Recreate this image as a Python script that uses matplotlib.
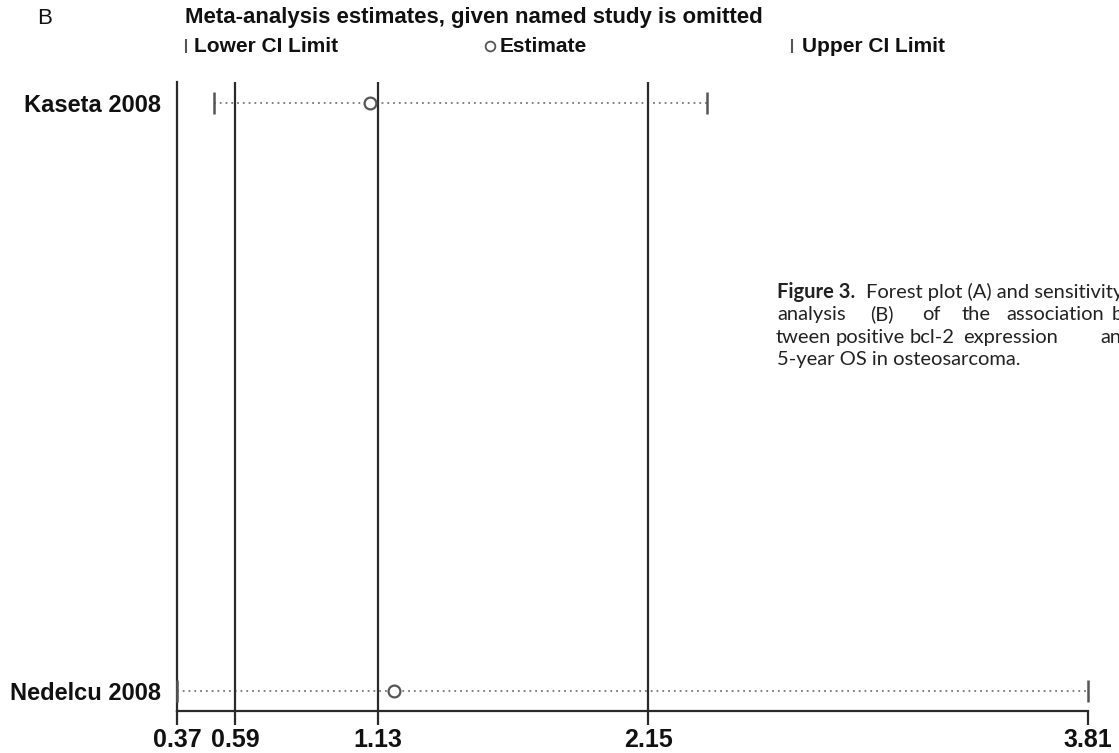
import matplotlib
matplotlib.use("Agg")
import matplotlib.pyplot as plt
from matplotlib.lines import Line2D

studies = ["Kaseta 2008", "Nedelcu 2008"]
estimates = [1.10, 1.19]
lower_ci = [0.51, 0.37]
upper_ci = [2.37, 3.81]
overall_est = 1.13
overall_low = 0.59
overall_high = 2.15
xmin, xmax = 0.37, 3.81
xticks = [0.37, 0.59, 1.13, 2.15, 3.81]
xticklabels = ["0.37", "0.59", "1.13", "2.15", "3.81"]

W, H = 1119, 753
fig = plt.figure(figsize=(W / 100, H / 100), dpi=100)
fig.patch.set_facecolor("white")

def fx(px):
    return px / W

def fy(py):
    return 1 - py / H

ax_left, ax_right, ax_top, ax_bot = 177, 1088, 82, 711
ax = fig.add_axes([fx(ax_left), fy(ax_bot), fx(ax_right - ax_left), (ax_bot - ax_top) / H])
ax.set_xlim(xmin, xmax)
span = 588.0
ax.set_ylim(1 + 20 / span, -21 / span)

ink = "#2a2a2a"
grey = "#555555"
font = "Liberation Sans"

for s in ["top", "right"]:
    ax.spines[s].set_visible(False)
for s in ["left", "bottom"]:
    ax.spines[s].set_color(ink)
    ax.spines[s].set_linewidth(1.6)

for v in [overall_low, overall_est, overall_high]:
    ax.axvline(v, color=ink, lw=1.6, zorder=2)

ys = list(range(len(studies)))
for y, lo, est, hi in zip(ys, lower_ci, estimates, upper_ci):
    ax.plot([lo, hi], [y, y], color="#777777", lw=1.3, linestyle=(0, (1, 2.2)), zorder=1, clip_on=False)
    ax.plot([lo, hi], [y, y], linestyle="none", marker="|", markersize=16, markeredgewidth=1.8,
            color=grey, zorder=3, clip_on=False)
    ax.plot([est], [y], linestyle="none", marker="o", markersize=8.5, markerfacecolor="white",
            markeredgecolor=grey, markeredgewidth=1.6, zorder=4, clip_on=False)

ax.set_yticks(ys)
ax.set_yticklabels(studies, fontsize=17, fontfamily=font, color="#111111", fontweight="bold")
ax.tick_params(axis="y", length=0, pad=11.5)
ax.set_xticks(xticks)
ax.set_xticklabels(xticklabels, fontsize=18, fontfamily=font, color="#111111", fontweight="bold")
ax.tick_params(axis="x", length=10, width=1.6, color=ink, pad=2)

# Header texts
fig.text(fx(37), fy(18), "B", fontsize=16, fontfamily=font, va="center", ha="left", color="#111111")
fig.text(fx(185), fy(18), "Meta-analysis estimates, given named study is omitted", fontsize=16,
         fontfamily=font, fontweight="bold", va="center", ha="left", color="#111111")

# Legend row
leg_y = fy(46)
fig.add_artist(Line2D([fx(186)], [leg_y], marker="|", markersize=10, markeredgewidth=1.5,
                      color=grey, linestyle="none"))
fig.text(fx(194), leg_y, "Lower CI Limit", fontsize=15, fontfamily=font, fontweight="bold",
         va="center", ha="left", color="#111111")
fig.add_artist(Line2D([fx(490)], [leg_y], marker="o", markersize=7, markerfacecolor="white",
                      markeredgecolor=grey, markeredgewidth=1.3, linestyle="none"))
fig.text(fx(500), leg_y, "Estimate", fontsize=15, fontfamily=font, fontweight="bold",
         va="center", ha="left", color="#111111")
fig.add_artist(Line2D([fx(792)], [leg_y], marker="|", markersize=10, markeredgewidth=1.5,
                      color=grey, linestyle="none"))
fig.text(fx(802), leg_y, "Upper CI Limit", fontsize=15, fontfamily=font, fontweight="bold",
         va="center", ha="left", color="#111111")

# Caption (justified lines, clipped at right edge like the reference)
cap_font = "Lato"
cap_col = "#222222"
cs = 14.5
fig.text(fx(777), fy(292), "Figure 3.", fontsize=cs, fontfamily=cap_font, fontweight="bold",
         va="center", ha="left", color=cap_col)
fig.text(fx(866), fy(292), "Forest plot (A) and sensitivity", fontsize=cs, fontfamily=cap_font,
         va="center", ha="left", color=cap_col)
line2 = [("analysis", 777), ("(B)", 870), ("of", 922), ("the", 962), ("association", 1006), ("be-", 1112)]
line3 = [("tween", 776), ("positive", 836), ("bcl-2", 910), ("expression", 963), ("and", 1100)]
for words, yy in [(line2, 314), (line3, 337)]:
    for w, xx in words:
        fig.text(fx(xx), fy(yy), w, fontsize=cs, fontfamily=cap_font, va="center", ha="left", color=cap_col)
fig.text(fx(777), fy(360), "5-year OS in osteosarcoma.", fontsize=cs, fontfamily=cap_font,
         va="center", ha="left", color=cap_col)

fig.savefig("out.png", dpi=100, facecolor="white")
